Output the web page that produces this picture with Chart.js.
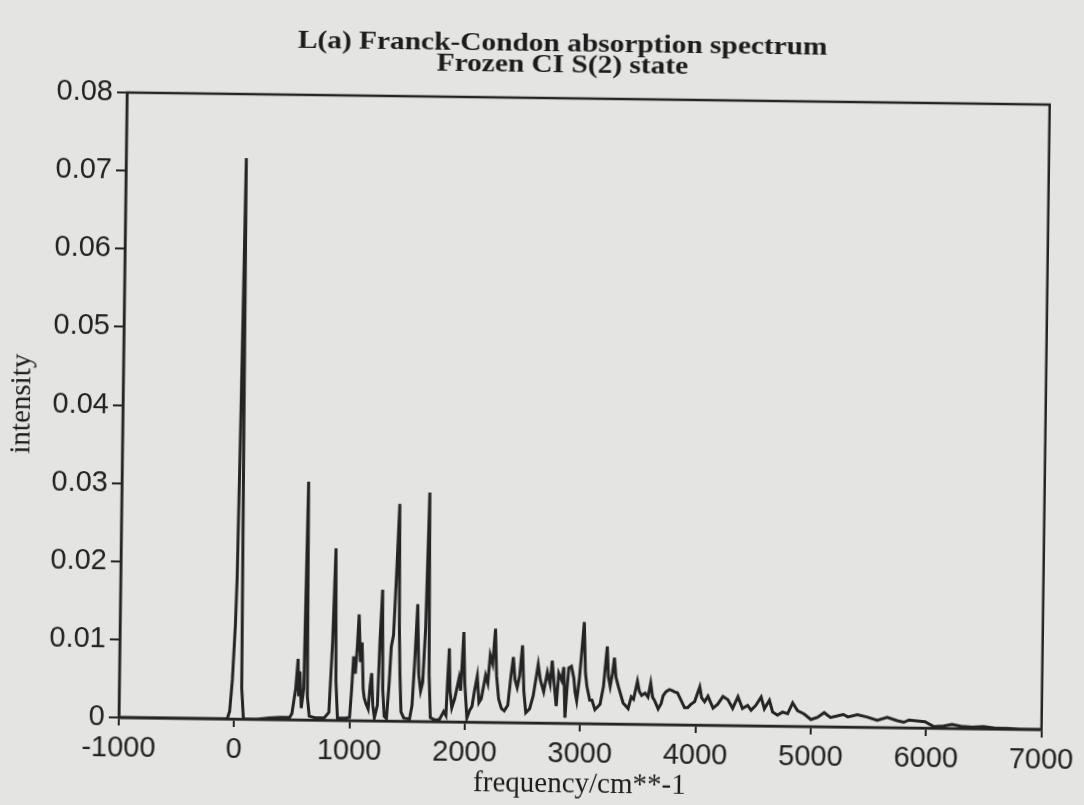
<!DOCTYPE html>
<html>
<head>
<meta charset="utf-8">
<title>Franck-Condon absorption spectrum</title>
<script src="https://cdn.jsdelivr.net/npm/chart.js@4/dist/chart.umd.min.js"></script>
<style>
  html, body { margin: 0; padding: 0; background: #e4e4e2; overflow: hidden; }
  #spectrum { display: block; transform: rotate(0.75deg); transform-origin: 542px 402px; }
</style>
</head>
<body>
<canvas id="spectrum" width="1084" height="805"></canvas>
<script>
// Chart text
const titleLines = ['L(a) Franck-Condon absorption spectrum', 'Frozen CI S(2) state'];
const xAxisTitle = 'frequency/cm**-1';
const yAxisTitle = 'intensity';

// Tick labels
const xTickLabels = ['-1000', '0', '1000', '2000', '3000', '4000', '5000', '6000', '7000'];
const yTickLabels = ['0', '0.01', '0.02', '0.03', '0.04', '0.05', '0.06', '0.07', '0.08'];

// Spectrum: frequency (cm^-1) and intensity
const frequencies = [
  -1000, -60, -40, -20, 0, 10, 25, 42, 52, 62, 80, 200, 300, 400, 480,
  500, 530, 548, 556, 565, 580, 600, 619, 632, 650, 700, 780, 820, 845, 864, 878, 895, 960, 1000,
  1015, 1029, 1045, 1060, 1072, 1088, 1101, 1115, 1124, 1140, 1160, 1175, 1187, 1200, 1215, 1240,
  1256, 1273, 1285, 1300, 1320, 1340, 1354, 1372, 1390, 1412, 1422, 1432, 1445, 1470, 1520,
  1540, 1560, 1579, 1595, 1613, 1630, 1650, 1671, 1685, 1700, 1740, 1780, 1815, 1835, 1848,
  1858, 1868, 1885, 1910, 1945, 1960, 1982, 1995, 2017, 2040, 2060, 2080, 2103, 2120, 2140,
  2175, 2195, 2213, 2235, 2256, 2270, 2290, 2315, 2340, 2370, 2395, 2414, 2430, 2450, 2470,
  2492, 2508, 2527, 2560, 2590, 2615, 2630, 2650, 2680, 2710, 2735, 2751, 2770, 2790, 2809,
  2835, 2852, 2867, 2880, 2895, 2918, 2940, 2952, 2967, 2987, 3000, 3025, 3040, 3054, 3080,
  3100, 3126, 3170, 3198, 3213, 3227, 3240, 3256, 3275, 3290, 3305, 3327, 3370, 3414, 3440,
  3460, 3492, 3510, 3530, 3560, 3585, 3607, 3625, 3645, 3674, 3700, 3716, 3740, 3770, 3789,
  3815, 3840, 3860, 3903, 3930, 3955, 3990, 4033, 4050, 4076, 4105, 4150, 4190, 4235, 4278,
  4320, 4365, 4405, 4450, 4480, 4520, 4566, 4595, 4638, 4667, 4710, 4753, 4797, 4840, 4883,
  4940, 5000, 5057, 5114, 5170, 5229, 5280, 5320, 5402, 5490, 5575, 5661, 5748, 5805, 5850,
  5920, 5990, 6064, 6150, 6223, 6300, 6400, 6497, 6600, 6700, 6814, 7000
];
const intensities = [
  0, 0, 0.001, 0.005, 0.012, 0.018, 0.04, 0.0718, 0.035, 0.004, 0, 0, 0.0002, 0.0003, 0.0003,
  0.0008, 0.004, 0.0078, 0.003, 0.0062, 0.0015, 0.004, 0.0305, 0.003, 0.0005, 0.0003, 0.0003, 0.001, 0.01, 0.022, 0.005, 0.0003, 0.0003, 0.0004,
  0.004, 0.0082, 0.006, 0.0095, 0.0136, 0.0075, 0.0100, 0.004, 0.003, 0.0022, 0.0015, 0.0045, 0.0061, 0.002, 0.0004, 0.002,
  0.0105, 0.0168, 0.004, 0.0006, 0.0003, 0.005, 0.0095, 0.011, 0.018, 0.0278, 0.012, 0.006, 0.0012, 0.0004, 0.0003,
  0.002, 0.008, 0.015, 0.006, 0.0039, 0.005, 0.012, 0.0293, 0.006, 0.0005, 0.0002, 0.0003, 0.0013, 0.0008, 0.006,
  0.0094, 0.004, 0.0018, 0.003, 0.0056, 0.004, 0.0115, 0.005, 0.0005, 0.0015, 0.002, 0.004, 0.0059, 0.0025, 0.003,
  0.006, 0.005, 0.0086, 0.0075, 0.012, 0.006, 0.003, 0.0018, 0.0015, 0.0022, 0.006, 0.0084, 0.0055, 0.0045, 0.006,
  0.0099, 0.004, 0.0013, 0.0018, 0.0035, 0.006, 0.0075, 0.0055, 0.004, 0.0065, 0.005, 0.008, 0.005, 0.0022, 0.0064,
  0.0055, 0.0072, 0.0007, 0.004, 0.0071, 0.0073, 0.0058, 0.004, 0.0029, 0.0055, 0.008, 0.013, 0.0065, 0.0048, 0.003,
  0.003, 0.0018, 0.0025, 0.0048, 0.0075, 0.0099, 0.006, 0.0048, 0.0065, 0.0085, 0.006, 0.0048, 0.0027, 0.002, 0.0035,
  0.0032, 0.0055, 0.0042, 0.0037, 0.004, 0.0035, 0.0053, 0.0035, 0.003, 0.002, 0.0027, 0.0037, 0.0042, 0.0045, 0.0044,
  0.0042, 0.0041, 0.0035, 0.0022, 0.0022, 0.0026, 0.003, 0.0049, 0.0035, 0.003, 0.0037, 0.0022, 0.0027, 0.0037, 0.0033,
  0.0022, 0.0037, 0.0022, 0.0026, 0.002, 0.0026, 0.0037, 0.0022, 0.0033, 0.0018, 0.0014, 0.0018, 0.0016, 0.003, 0.002,
  0.0016, 0.0009, 0.0012, 0.0018, 0.0012, 0.0014, 0.0016, 0.0013, 0.0016, 0.0013, 0.0009, 0.0013, 0.0009, 0.0007, 0.001,
  0.0009, 0.0008, 0.0002, 0.0003, 0.0005, 0.0003, 0.0002, 0.0003, 0.0001, 0.0001, 0, 0
];

const INK = '#242424';
const SANS = "'Liberation Sans', Arial, sans-serif";
const SERIF = "'Liberation Serif', 'Times New Roman', serif";

// Closes the plot frame (top and right edges) and writes the two-line heading
const framePlugin = {
  id: 'frame',
  afterDatasetsDraw(chart) {
    const { ctx, chartArea: a } = chart;
    ctx.save();
    ctx.strokeStyle = INK;
    ctx.lineWidth = 2.5;
    ctx.strokeRect(a.left, a.top, a.right - a.left, a.bottom - a.top);
    ctx.restore();
  },
  afterDraw(chart) {
    const { ctx } = chart;
    ctx.save();
    ctx.fillStyle = '#1c1c1c';
    ctx.textAlign = 'center';
    ctx.textBaseline = 'alphabetic';
    ctx.font = "bold 26px " + SERIF;
    ctx.translate(558, 0);
    ctx.scale(1.13, 1);
    ctx.fillText(titleLines[0], 0, 51);
    ctx.fillText(titleLines[1], 0, 72);
    ctx.restore();
  }
};

new Chart(document.getElementById('spectrum'), {
  type: 'line',
  data: {
    datasets: [{
      data: frequencies.map((f, i) => ({ x: f, y: intensities[i] })),
      borderColor: INK,
      borderWidth: 3,
      pointRadius: 0,
      tension: 0,
      fill: false
    }]
  },
  options: {
    responsive: false,
    animation: false,
    layout: { padding: { top: 98, right: 36, left: 0, bottom: 0 } },
    plugins: {
      legend: { display: false },
      title: { display: false },
      tooltip: { enabled: false }
    },
    scales: {
      x: {
        type: 'linear',
        min: -1000,
        max: 7000,
        afterFit(scale) { scale.height = 82; },
        ticks: {
          stepSize: 1000,
          autoSkip: false,
          maxRotation: 0,
          padding: 6,
          color: '#222',
          font: { family: SANS, size: 29 },
          callback: (v, i) => xTickLabels[i]
        },
        grid: { drawOnChartArea: false, drawTicks: true, tickLength: 8, color: INK, lineWidth: 2 },
        border: { display: true, color: INK, width: 2.5 },
        title: {
          display: true,
          text: xAxisTitle,
          color: '#1c1c1c',
          font: { family: SERIF, size: 29 },
          padding: { top: 0, bottom: 3 }
        }
      },
      y: {
        min: 0,
        max: 0.08,
        afterFit(scale) { scale.width = 123; },
        ticks: {
          stepSize: 0.01,
          padding: 4,
          color: '#222',
          font: { family: SANS, size: 29 },
          callback: (v, i) => yTickLabels[i]
        },
        grid: { drawOnChartArea: false, drawTicks: true, tickLength: 10, color: INK, lineWidth: 2 },
        border: { display: true, color: INK, width: 2.5 },
        title: {
          display: true,
          text: yAxisTitle,
          color: '#1c1c1c',
          font: { family: SERIF, size: 29 },
          padding: { top: 5, bottom: 0 }
        }
      }
    }
  },
  plugins: [framePlugin]
});
</script>
</body>
</html>
